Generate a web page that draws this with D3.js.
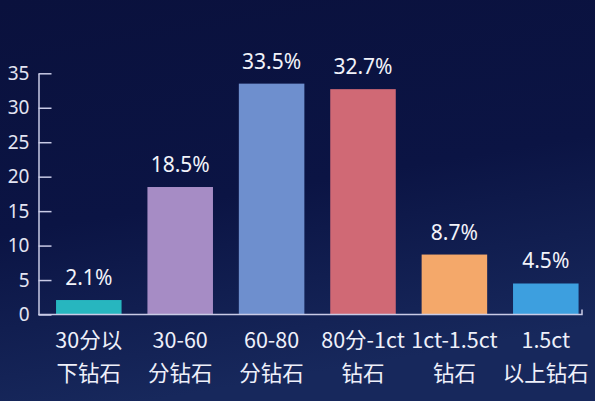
<!DOCTYPE html>
<html>
<head>
<meta charset="utf-8">
<script src="https://cdn.jsdelivr.net/npm/d3@7"></script>
<style>
  html, body { margin: 0; padding: 0; background: #0b1240; }
  svg { display: block; }
  .tick text { font-family: "Noto Sans", sans-serif; }
</style>
</head>
<body>
<svg id="chart" width="595" height="401"></svg>
<script>
// data
const categories = ['30分以下钻石', '30-60分钻石', '60-80分钻石', '80分-1ct钻石', '1ct-1.5ct钻石', '1.5ct以上钻石']
const labelLine1 = ['30分以', '30-60', '60-80', '80分-1ct', '1ct-1.5ct', '1.5ct']
const labelLine2 = ['下钻石', '分钻石', '分钻石', '钻石', '钻石', '以上钻石']
const shares = [2.1, 18.5, 33.5, 32.7, 8.7, 4.5]
const barColors = ['#27b6bf', '#a68cc5', '#6e8fce', '#d06975', '#f4a86a', '#3d9fdf']
const yTicks = [0, 5, 10, 15, 20, 25, 30, 35]

const W = 595, H = 401
const axisX = 38.5, axisEnd = 582
const plotTop = 73.3, plotBase = 314.5
const axisColor = '#c9cbe6'

const svg = d3.select('#chart')

// background gradient
const defs = svg.append('defs')
const grad = defs.append('linearGradient')
	.attr('id', 'bg').attr('x1', 0).attr('y1', 0).attr('x2', 0.25).attr('y2', 1)
grad.append('stop').attr('offset', '0%').attr('stop-color', '#0a113d')
grad.append('stop').attr('offset', '55%').attr('stop-color', '#0b1444')
grad.append('stop').attr('offset', '100%').attr('stop-color', '#17285c')
svg.append('rect').attr('width', W).attr('height', H).attr('fill', 'url(#bg)')

// scales
const x = d3.scaleBand()
	.domain(categories)
	.range([43.1, 591.5])
	.paddingInner(0.283)
	.paddingOuter(0.1415)

const y = d3.scaleLinear()
	.domain([0, 35])
	.range([plotBase, plotTop])

// bars
svg.append('g').selectAll('rect')
	.data(categories)
	.join('rect')
	.attr('x', (d) => x(d))
	.attr('y', (d, i) => y(shares[i]))
	.attr('width', x.bandwidth())
	.attr('height', (d, i) => plotBase - y(shares[i]))
	.attr('fill', (d, i) => barColors[i])

// value labels
svg.append('g').selectAll('text')
	.data(categories)
	.join('text')
	.attr('x', (d) => x(d) + x.bandwidth() / 2)
	.attr('y', (d, i) => y(shares[i]) - 15)
	.attr('text-anchor', 'middle')
	.attr('fill', '#f2f3fa')
	.style('font-family', '"Noto Sans", sans-serif')
	.style('font-size', '21px')
	.text((d, i) => shares[i] + '%')

// y axis, ticks pointing inward
const yAxis = svg.append('g')
	.attr('transform', 'translate(' + axisX + ',0)')
	.call(d3.axisLeft(y).tickValues(yTicks).tickSizeInner(-13).tickSizeOuter(0).tickPadding(9))
yAxis.select('.domain').attr('stroke', axisColor).attr('stroke-width', 1.5)
yAxis.selectAll('.tick line').attr('stroke', axisColor).attr('stroke-width', 1.5)
yAxis.selectAll('.tick text')
	.attr('fill', '#e3e4f2')
	.style('font-size', '19px')

// x axis line with small end tick
svg.append('path')
	.attr('d', 'M' + axisX + ',' + plotBase + 'H' + axisEnd + 'V' + (plotBase - 5))
	.attr('fill', 'none')
	.attr('stroke', axisColor)
	.attr('stroke-width', 1.5)

// category labels, two lines
const cat = svg.append('g').selectAll('text')
	.data(categories)
	.join('text')
	.attr('text-anchor', 'middle')
	.attr('fill', '#eef0fa')
	.style('font-family', '"Noto Sans CJK SC", "Noto Sans", sans-serif')
	.style('font-size', '21.5px')
cat.append('tspan')
	.attr('x', (d) => x(d) + x.bandwidth() / 2)
	.attr('y', 348)
	.text((d, i) => labelLine1[i])
cat.append('tspan')
	.attr('x', (d) => x(d) + x.bandwidth() / 2)
	.attr('y', 381)
	.text((d, i) => labelLine2[i])
</script>
</body>
</html>
